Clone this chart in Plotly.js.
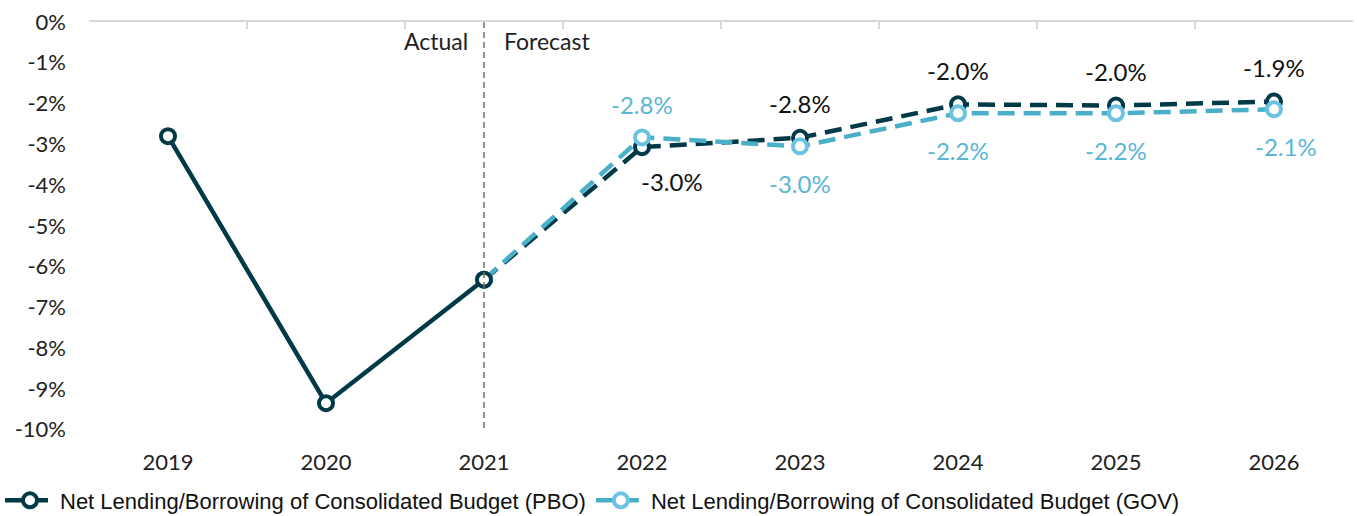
<!DOCTYPE html>
<html>
<head>
<meta charset="utf-8">
<script src="https://cdn.plot.ly/plotly-3.0.1.min.js"></script>
<style>html,body{margin:0;padding:0;background:#fff;}#chart{width:1357px;height:516px;}</style>
</head>
<body>
<div id="chart"></div>
<script>
const years = ['2019','2020','2021','2022','2023','2024','2025','2026'];
const actualYears = ['2019','2020','2021'];
const actualValues = [-2.8, -9.35, -6.32];
const forecastYears = ['2021','2022','2023','2024','2025','2026'];
const pboValues = [-6.32, -3.07, -2.84, -2.02, -2.05, -1.95];
const govValues = [-6.32, -2.83, -3.05, -2.24, -2.24, -2.14];
const pboLabels = ['', '-3.0%', '-2.8%', '-2.0%', '-2.0%', '-1.9%'];
const govLabels = ['', '-2.8%', '-3.0%', '-2.2%', '-2.2%', '-2.1%'];
const pboLabelAbove = [true, false, true, true, true, true];
const govLabelAbove = [true, true, false, false, false, false];
const yTickValues = [0,-1,-2,-3,-4,-5,-6,-7,-8,-9,-10];
const yTickLabels = ['0%','-1%','-2%','-3%','-4%','-5%','-6%','-7%','-8%','-9%','-10%'];
const pboName = 'Net Lending/Borrowing of Consolidated Budget (PBO)';
const govName = 'Net Lending/Borrowing of Consolidated Budget (GOV)';
const splitYear = '2021';

const dark = '#003a47';
const lightLine = '#4aafc9';
const lightMarker = '#6cc3e1';
const labelFont = 'Lato, "Open Sans", sans-serif';
const idx = yr => years.indexOf(yr);

const traces = [
  {
    x: forecastYears, y: pboValues, name: pboName, type: 'scatter', mode: 'lines+markers',
    line: {color: dark, width: 4.5, dash: '17px,9px'},
    marker: {symbol: 'circle', size: 14, color: '#ffffff', line: {color: dark, width: 4}},
    hoverinfo: 'skip'
  },
  {
    x: forecastYears, y: govValues, name: govName, type: 'scatter', mode: 'lines+markers',
    line: {color: lightLine, width: 4.5, dash: '17px,9px'},
    marker: {symbol: 'circle', size: 14, color: '#ffffff', line: {color: lightMarker, width: 4}},
    hoverinfo: 'skip'
  },
  {
    x: actualYears, y: actualValues, name: 'Actual', type: 'scatter', mode: 'lines+markers',
    showlegend: false,
    line: {color: dark, width: 4.5},
    marker: {symbol: 'circle', size: 14, color: '#ffffff', line: {color: dark, width: 4}},
    hoverinfo: 'skip'
  },
  {
    x: years, y: years.map(() => null), xaxis: 'x2', type: 'scatter', mode: 'lines',
    showlegend: false, hoverinfo: 'skip'
  }
];

const annotations = [];
forecastYears.forEach((yr, i) => {
  if (pboLabels[i]) {
    annotations.push({
      x: idx(yr), y: pboValues[i], xref: 'x', yref: 'y', text: pboLabels[i], showarrow: false,
      yshift: pboLabelAbove[i] ? 34 : -34, xshift: (i === 1 ? 30 : 0),
      font: {family: labelFont, size: 24, color: '#111111'}
    });
  }
  if (govLabels[i]) {
    annotations.push({
      x: idx(yr), y: govValues[i], xref: 'x', yref: 'y', text: govLabels[i], showarrow: false,
      yshift: govLabelAbove[i] ? 33 : -37, xshift: (i === 5 ? 12 : 0),
      font: {family: labelFont, size: 24, color: '#5bb6d4'}
    });
  }
});
annotations.push({
  x: idx(splitYear), y: 0, xref: 'x', yref: 'y', text: 'Actual', showarrow: false,
  xanchor: 'right', yanchor: 'top', xshift: -14, yshift: -3,
  font: {family: labelFont, size: 23, color: '#222222'}
});
annotations.push({
  x: idx(splitYear), y: 0, xref: 'x', yref: 'y', text: 'Forecast', showarrow: false,
  xanchor: 'left', yanchor: 'top', xshift: 18, yshift: -3,
  font: {family: labelFont, size: 23, color: '#222222'}
});

const layout = {
  width: 1357, height: 516,
  margin: {l: 89, r: 4, t: 22, b: 72},
  paper_bgcolor: '#ffffff', plot_bgcolor: '#ffffff',
  showlegend: true,
  legend: {
    orientation: 'h', xref: 'container', yref: 'container', x: 0, xanchor: 'left', y: 0.03, yanchor: 'middle',
    font: {family: '"Liberation Sans", Arial, sans-serif', size: 22, color: '#111111'},
    itemwidth: 50
  },
  xaxis: {
    type: 'category', categoryorder: 'array', categoryarray: years,
    range: [-0.5, 7.5],
    showline: false, showgrid: false, zeroline: false, ticks: '',
    tickfont: {family: labelFont, size: 22, color: '#222222'},
    ticklabelstandoff: 3
  },
  xaxis2: {
    type: 'category', categoryorder: 'array', categoryarray: years,
    overlaying: 'x', side: 'top', anchor: 'y', range: [-0.5, 7.5],
    showline: true, linecolor: '#d9d9d9', linewidth: 2,
    ticks: 'inside', tickson: 'boundaries', ticklen: 7, tickcolor: '#d9d9d9', tickwidth: 2,
    showticklabels: false, showgrid: false, zeroline: false
  },
  yaxis: {
    range: [-10.35, 0], tickvals: yTickValues, ticktext: yTickLabels,
    showline: false, showgrid: false, zeroline: false, ticks: '',
    tickfont: {family: labelFont, size: 22, color: '#222222'},
    ticklabelstandoff: 22
  },
  shapes: [{
    type: 'line', xref: 'x', yref: 'y', x0: idx(splitYear), x1: idx(splitYear), y0: 0, y1: -10,
    line: {color: '#707070', width: 1.5, dash: '6px,4px'}
  }],
  annotations: annotations
};

Plotly.newPlot('chart', traces, layout, {displayModeBar: false, staticPlot: true});
</script>
</body>
</html>
